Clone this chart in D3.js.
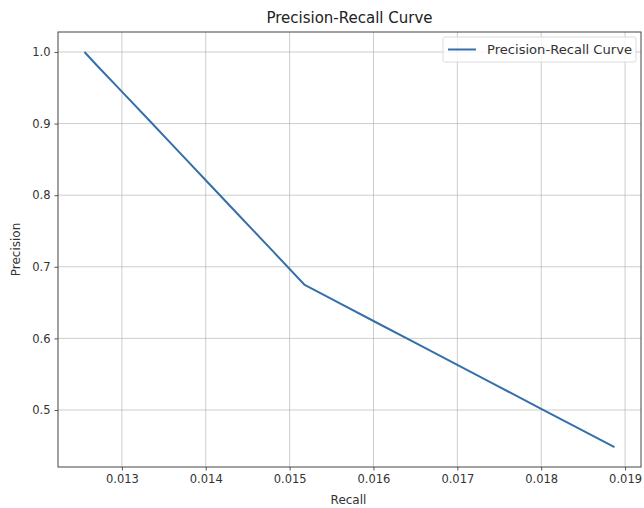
<!DOCTYPE html>
<html>
<head>
<meta charset="utf-8">
<script src="https://cdn.jsdelivr.net/npm/d3@7"></script>
<style>
  html, body { margin: 0; padding: 0; background: #ffffff; }
  svg { display: block; font-family: "DejaVu Sans", sans-serif; }
</style>
</head>
<body>
<svg id="chart" width="644" height="508"></svg>
<script>
// Precision-recall points (recall, precision)
const recall    = [0.012554, 0.01270, 0.01300, 0.01333, 0.01370, 0.01400, 0.01440, 0.01480, 0.01518, 0.01560, 0.01600, 0.01650, 0.01700, 0.01750, 0.01800, 0.01840, 0.018874];
const precision = [1.0,      0.9815,  0.9447,  0.9040,  0.8580,  0.8208,  0.7713,  0.7218,  0.6746,  0.6488,  0.6243,  0.5936,  0.5630,  0.5323,  0.5016,  0.4771,  0.4480];
const xTicks = [0.013, 0.014, 0.015, 0.016, 0.017, 0.018, 0.019];
const yTicks = [0.5, 0.6, 0.7, 0.8, 0.9, 1.0];
const xDomain = [0.012238, 0.01919];
const yDomain = [0.4204, 1.0279];

const svg = d3.select("#chart");
const margin = { left: 58, right: 3, top: 32, bottom: 41 };
const W = 644, H = 508;
const x = d3.scaleLinear().domain(xDomain).range([margin.left, W - margin.right]);
const y = d3.scaleLinear().domain(yDomain).range([H - margin.bottom, margin.top]);

// grid
const grid = svg.append("g");
grid.selectAll(".gx").data(xTicks).join("line")
  .attr("x1", d => x(d)).attr("x2", d => x(d))
  .attr("y1", y.range()[1]).attr("y2", y.range()[0])
  .attr("stroke", "#b0b0b0").attr("stroke-opacity", 0.7).attr("stroke-width", 0.9);
grid.selectAll(".gy").data(yTicks).join("line")
  .attr("y1", d => y(d)).attr("y2", d => y(d))
  .attr("x1", x.range()[0]).attr("x2", x.range()[1])
  .attr("stroke", "#b0b0b0").attr("stroke-opacity", 0.7).attr("stroke-width", 0.9);

// curve
const line = d3.line().x((d, i) => x(recall[i])).y((d, i) => y(precision[i]));
svg.append("path")
  .datum(recall)
  .attr("d", line)
  .attr("fill", "none")
  .attr("stroke", "#3570ab")
  .attr("stroke-width", 2)
  .attr("stroke-linejoin", "round");

// axes
const xAxis = d3.axisBottom(x).tickValues(xTicks).tickFormat(d3.format(".3f")).tickSize(3.5).tickPadding(4);
const yAxis = d3.axisLeft(y).tickValues(yTicks).tickFormat(d3.format(".1f")).tickSize(3.5).tickPadding(4);
const gx = svg.append("g").attr("transform", `translate(0,${H - margin.bottom})`).call(xAxis);
const gy = svg.append("g").attr("transform", `translate(${margin.left},0)`).call(yAxis);
[gx, gy].forEach(g => {
  g.select(".domain").remove();
  g.selectAll(".tick line").attr("stroke", "#444").attr("stroke-width", 0.9);
  g.selectAll(".tick text").attr("fill", "#333").attr("font-size", 11.5).attr("font-family", "DejaVu Sans, sans-serif");
});

// frame
svg.append("rect")
  .attr("x", x.range()[0]).attr("y", y.range()[1])
  .attr("width", x.range()[1] - x.range()[0])
  .attr("height", y.range()[0] - y.range()[1])
  .attr("fill", "none").attr("stroke", "#444").attr("stroke-width", 1);

// title and labels
const cx = (x.range()[0] + x.range()[1]) / 2;
svg.append("text").attr("x", cx).attr("y", 23).attr("text-anchor", "middle")
  .attr("font-size", 15).attr("fill", "#222").text("Precision-Recall Curve");
svg.append("text").attr("x", cx - 1).attr("y", 504).attr("text-anchor", "middle")
  .attr("font-size", 12).attr("fill", "#333").text("Recall");
svg.append("text").attr("transform", `translate(20,${(y.range()[0] + y.range()[1]) / 2}) rotate(-90)`)
  .attr("text-anchor", "middle").attr("font-size", 12).attr("fill", "#333").text("Precision");

// legend
const lg = svg.append("g");
lg.append("rect").attr("x", 443).attr("y", 37).attr("width", 193).attr("height", 25).attr("rx", 2)
  .attr("fill", "#ffffff").attr("fill-opacity", 0.8).attr("stroke", "#d8d8d8").attr("stroke-width", 0.9);
lg.append("line").attr("x1", 448).attr("x2", 476).attr("y1", 49.5).attr("y2", 49.5)
  .attr("stroke", "#3570ab").attr("stroke-width", 2);
lg.append("text").attr("x", 487).attr("y", 54).attr("font-size", 12.5).attr("fill", "#333")
  .attr("textLength", 145).attr("lengthAdjust", "spacingAndGlyphs")
  .text("Precision-Recall Curve");
</script>
</body>
</html>
